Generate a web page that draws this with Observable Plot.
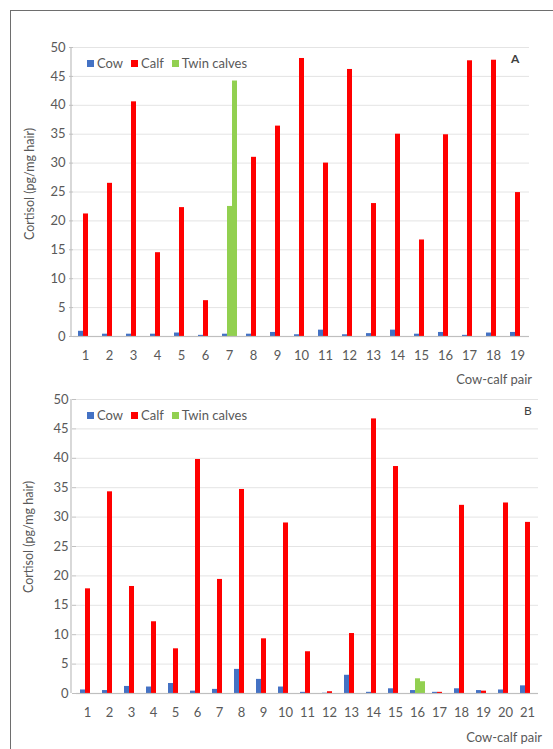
<!DOCTYPE html>
<html><head><meta charset="utf-8">
<script src="https://cdn.jsdelivr.net/npm/d3@7"></script>
<script src="https://cdn.jsdelivr.net/npm/@observablehq/plot@0.6"></script>
<style>
body{margin:0;background:#fff;overflow:hidden;font-family:Lato,sans-serif;color:#595959}
#wrap{position:relative;width:553px;height:749px;overflow:hidden;background:#fff}
.abs{position:absolute;white-space:nowrap;line-height:1}
.frame{position:absolute;left:10px;top:10px;width:700px;height:900px;border-top:1.5px solid #6e6e6e;border-left:1.5px solid #6e6e6e;pointer-events:none;z-index:5}
.legend{position:absolute;left:87px;font-size:13px;display:flex;align-items:center;line-height:1}
.legend span.item{display:flex;align-items:center;margin-right:8px}
.sw{display:inline-block;width:7px;height:7px;margin-right:3px}
.ytitle{position:absolute;font-size:12.5px;transform:translate(-50%,-50%) rotate(-90deg);white-space:nowrap}
.chart{position:absolute;left:0}
</style>
</head><body>
<div id="wrap">
  <div id="chartA" class="chart" style="top:0px"></div>
  <div id="chartB" class="chart" style="top:366px"></div>
  <div class="ytitle" style="left:29px;top:184px">Cortisol (pg/mg hair)</div>
  <div class="ytitle" style="left:28px;top:537px">Cortisol (pg/mg hair)</div>
  <div class="legend" style="top:57px" id="legA"></div>
  <div class="legend" style="top:409px" id="legB"></div>
  <div class="abs" style="left:511px;top:53px;font-size:12px;font-weight:bold;color:#404040">A</div>
  <div class="abs" style="left:524px;top:405px;font-size:12px;color:#404040">B</div>
  <div class="abs" style="right:21px;top:373px;font-size:13px">Cow-calf pair</div>
  <div class="abs" style="right:11px;top:731px;font-size:13px">Cow-calf pair</div>
  <div class="frame"></div>
</div>
<script>
// ---- Data: Panel A ----
const pairsA = [1,2,3,4,5,6,7,8,9,10,11,12,13,14,15,16,17,18,19];
const cowA  = [0.9,0.4,0.4,0.4,0.6,0.2,0.4,0.4,0.7,0.3,1.1,0.3,0.5,1.1,0.4,0.7,0.2,0.6,0.7];
const calfA = [21.2,26.5,40.6,14.5,22.3,6.2,null,31.0,36.4,48.1,30.0,46.2,23.0,35.0,16.7,34.9,47.7,47.8,24.9];
const twinPairsA = [7];
const twin1A = [22.5];
const twin2A = [44.2];

// ---- Data: Panel B ----
const pairsB = [1,2,3,4,5,6,7,8,9,10,11,12,13,14,15,16,17,18,19,20,21];
const cowB  = [0.6,0.5,1.2,1.1,1.7,0.4,0.7,4.1,2.4,1.1,0.2,0.05,3.1,0.2,0.8,0.5,0.2,0.8,0.5,0.6,1.3];
const calfB = [17.8,34.3,18.2,12.2,7.6,39.8,19.4,34.7,9.3,29.0,7.1,0.3,10.2,46.7,38.6,null,0.2,32.0,0.4,32.4,29.1];
const twinPairsB = [16];
const twin1B = [2.5];
const twin2B = [2.0];

const seriesNames = ["Cow","Calf","Twin calves"];
const seriesColors = ["#4472c4","#ff0000","#92d050"];
const yTicks = [0,5,10,15,20,25,30,35,40,45,50];

function rows(pairs, cow, calf, tp, t1, t2) {
  const out = [];
  pairs.forEach((p, i) => {
    out.push({pair: p, slot: "Cow", series: "Cow", value: cow[i]});
    if (calf[i] != null) out.push({pair: p, slot: "Calf", series: "Calf", value: calf[i]});
  });
  tp.forEach((p, j) => {
    out.push({pair: p, slot: "Calf", series: "Twin calves", value: t1[j]});
    out.push({pair: p, slot: "Twin", series: "Twin calves", value: t2[j]});
  });
  return out;
}

function makeChart(pairs, data, opts) {
  const chart = Plot.plot({
    width: 553,
    height: opts.height,
    marginLeft: 71,
    marginRight: opts.marginRight,
    marginTop: opts.marginTop,
    marginBottom: 30,
    style: {fontFamily: "Lato, sans-serif", fontSize: "13px", color: "#595959", background: "transparent", overflow: "visible"},
    fx: {domain: pairs, padding: 0, axis: "bottom", tickSize: 0, tickPadding: 14, label: null},
    x: {domain: ["Cow","Calf","Twin"], paddingInner: 0.1, paddingOuter: opts.po, axis: null},
    y: {domain: [0, 50], axis: null},
    color: {domain: seriesNames, range: seriesColors},
    marks: [
      Plot.gridY(yTicks.slice(1), {stroke: "#e4e4e4", strokeOpacity: 1}),
      Plot.barY(data, {fx: "pair", x: "slot", y: "value", fill: "series"}),
      Plot.ruleY([0], {stroke: "#bfbfbf", strokeWidth: 1.2}),
      Plot.axisY(yTicks, {tickSize: 4, tickPadding: 4, stroke: "#bfbfbf", label: null})
    ]
  });
  const ys = chart.scale("y");
  d3.select(chart).append("line")
    .attr("x1", 71).attr("x2", 71)
    .attr("y1", ys.apply(0)).attr("y2", ys.apply(50))
    .attr("stroke", "#bfbfbf").attr("stroke-width", 1.2);
  return chart;
}

document.getElementById("chartA").appendChild(
  makeChart(pairsA, rows(pairsA, cowA, calfA, twinPairsA, twin1A, twin2A),
    {height: 366, marginTop: 47, marginRight: 22, po: 0.745}));
document.getElementById("chartB").appendChild(
  makeChart(pairsB, rows(pairsB, cowB, calfB, twinPairsB, twin1B, twin2B),
    {height: 357, marginTop: 33, marginRight: 10.5, po: 0.55}));

function legend(id) {
  const el = document.getElementById(id);
  seriesNames.forEach((n, i) => {
    const it = document.createElement("span");
    it.className = "item";
    it.innerHTML = `<span class="sw" style="background:${seriesColors[i]}"></span><span>${n}</span>`;
    el.appendChild(it);
  });
}
legend("legA");
legend("legB");
</script>
</body></html>
